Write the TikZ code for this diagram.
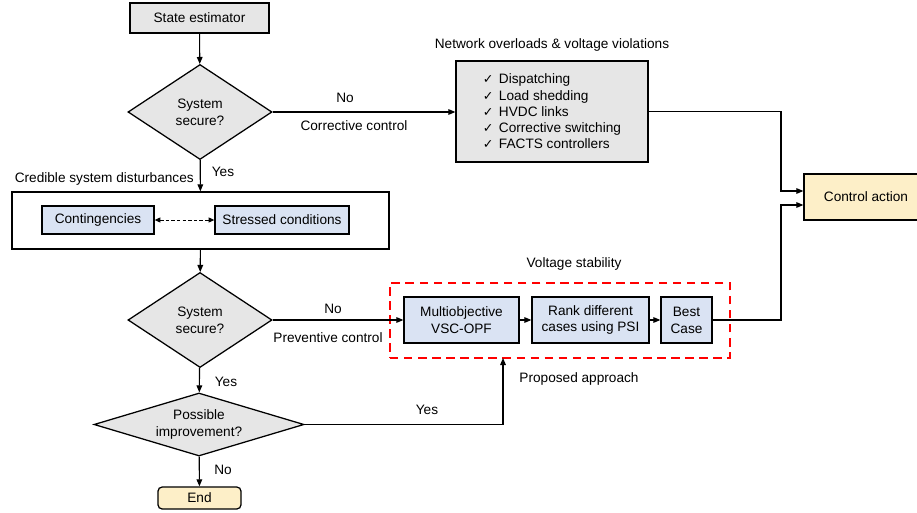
\documentclass[tikz,border=0pt]{standalone}
\usepackage{fontspec}
\setmainfont{Liberation Sans}
\newfontfamily\symbfont{DejaVu Sans}
\usetikzlibrary{shapes.geometric,arrows.meta}
\definecolor{boxgray}{HTML}{E6E6E6}
\definecolor{boxblue}{HTML}{DAE3F3}
\definecolor{boxyellow}{HTML}{FDEFC8}
\newcommand{\chk}{\makebox[0.4cm][l]{\symbfont\small ✓}}
\tikzset{
    every node/.style = {font=\fontsize{9.7}{12}\selectfont},
    arr/.style = {line width=0.8pt, -{Triangle[length=5pt,width=4pt]}},
    blk/.style = {draw, line width=0.9pt, inner sep=0pt, align=center},
    grayblk/.style = {blk, fill=boxgray},
    blueblk/.style = {blk, fill=boxblue, minimum height=0.7cm},
    decision/.style = {diamond, draw, line width=0.9pt, fill=boxgray, inner sep=0pt, align=center},
}
\begin{document}
\begin{tikzpicture}[x=0.025cm, y=-0.025cm]
    \useasboundingbox (0,0) rectangle (917,513);
    % main column
    \node[grayblk, minimum width=3.475cm, minimum height=0.75cm] (est) at (199.5,18) {State estimator};
    \node[decision, shape aspect=1.5, minimum width=3.6cm, minimum height=2.375cm] (sec1) at (200,112) {System\\secure?};
    \node[blk, minimum width=9.425cm, minimum height=1.425cm] (dist) at (200.5,220.5) {};
    \node[blueblk, minimum width=2.8cm] (cont) at (98,220) {Contingencies};
    \node[blueblk, minimum width=3.35cm] (stress) at (282,220) {Stressed conditions};
    \node[decision, shape aspect=1.5, minimum width=3.6cm, minimum height=2.375cm] (sec2) at (200,320) {System\\secure?};
    \node[decision, shape aspect=3.3, minimum width=5.25cm, minimum height=1.575cm] (imp) at (199,424.5) {Possible\\improvement?};
    \node[blk, fill=boxyellow, rounded corners=3pt, minimum width=2.075cm, minimum height=0.55cm] (endbox) at (199.5,498) {End};
    % corrective branch
    \node[grayblk, minimum width=4.8cm, minimum height=2.525cm, align=left, font=\fontsize{9.7}{11.6}\selectfont] (corr) at (552,111.5)
        {\chk Dispatching\\\chk Load shedding\\\chk HVDC links\\\chk Corrective switching\\\chk FACTS controllers};
    \node[blk, fill=boxyellow, minimum width=3.1cm, minimum height=1.15cm] (ctrl) at (866,197) {Control action};
    % preventive branch
    \node[draw=red, line width=1.4pt, dash pattern=on 6pt off 4pt, minimum width=8.5cm, minimum height=1.875cm] (prop) at (560,320.5) {};
    \node[blueblk, minimum width=2.875cm, minimum height=1.15cm] (vsopf) at (461.5,320) {Multiobjective\\VSC-OPF};
    \node[blueblk, minimum width=2.925cm, minimum height=1.15cm] (rank) at (590.5,320) {Rank different\\cases using PSI};
    \node[blueblk, minimum width=1.275cm, minimum height=1.15cm] (best) at (686.5,320) {Best\\Case};
    \coordinate (j1) at (781,191);
    \coordinate (j2) at (781,205);
    \coordinate (j3) at (503,358);
    % connectors
    \draw[arr] (est) -- (sec1);
    \draw[arr] (sec1.east) -- (sec1.east -| corr.west);
    \draw[arr] (corr.east) -| (j1) -- (j1 -| ctrl.west);
    \draw[arr] (sec1) -- (dist);
    \draw[line width=0.7pt, dash pattern=on 2.5pt off 1.5pt, {Triangle[length=4pt,width=3.5pt]}-{Triangle[length=4pt,width=3.5pt]}] (cont) -- (stress);
    \draw[arr] (dist) -- (sec2);
    \draw[arr] (sec2.east) -- (vsopf.west);
    \draw[arr] (vsopf) -- (rank);
    \draw[arr] (rank) -- (best);
    \draw[arr] (best.east) -| (j2) -- (j2 -| ctrl.west);
    \draw[arr] (sec2) -- (imp);
    \draw[arr] (imp.east) -| (j3);
    \draw[arr] (imp) -- (endbox);
    % labels
    \node at (345,98) {No};
    \node at (354,126) {Corrective control};
    \node at (552,45) {Network overloads \& voltage violations};
    \node at (223,172) {Yes};
    \node[anchor=east, inner sep=0pt] at (194,179) {Credible system disturbances};
    \node at (574,264) {Voltage stability};
    \node at (333,309) {No};
    \node at (328,338) {Preventive control};
    \node at (579,379) {Proposed approach};
    \node at (226,382) {Yes};
    \node at (427,410) {Yes};
    \node at (223,470) {No};
\end{tikzpicture}
\end{document}
